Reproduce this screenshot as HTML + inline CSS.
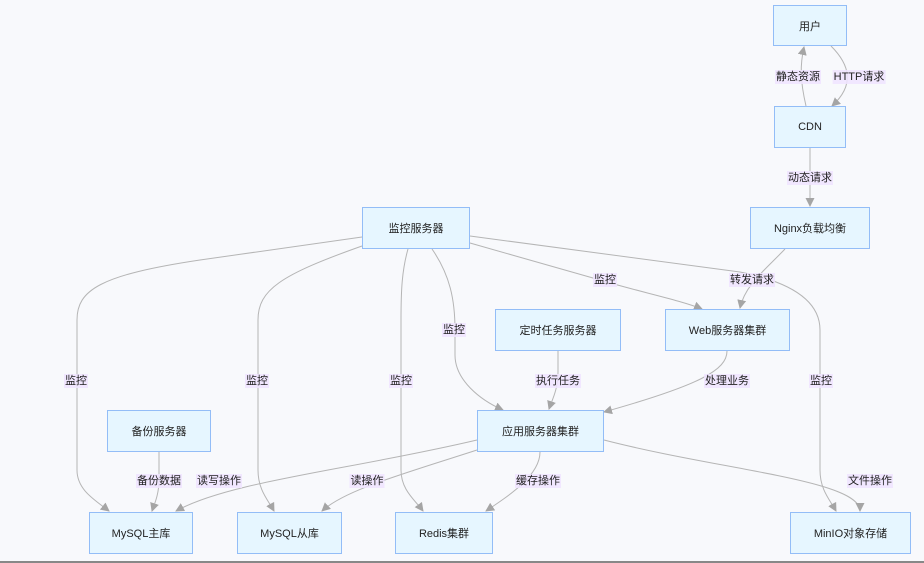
<!DOCTYPE html>
<html><head><meta charset="utf-8"><style>
body{margin:0;background:#f8f9fc;}
.w{position:relative;width:924px;height:563px;overflow:hidden;background:#f8f9fc;font-family:"Liberation Sans","Noto Sans CJK SC",sans-serif;}
.n{position:absolute;box-sizing:border-box;background:#e6f6ff;border:1.5px solid #93bdf7;display:flex;align-items:center;justify-content:center;font-size:11px;color:#222;}
.l{position:absolute;font-size:11px;color:#222;background:rgba(240,228,255,0.85);transform:translate(-50%,-50%);white-space:nowrap;padding:0 1px;line-height:14px;}
svg{position:absolute;left:0;top:0;}
</style></head><body><div class="w">
<svg width="924" height="563">
<defs><marker id="a" markerWidth="9" markerHeight="9" refX="8" refY="4.5" orient="auto" markerUnits="userSpaceOnUse"><path d="M0,0 L9,4.5 L0,9 z" fill="#a5a5a5"/></marker></defs>
<g fill="none" stroke="#b5b5b5" stroke-width="1" marker-end="url(#a)">
<path d="M806,106 C800,80 800,65 804,47"/>
<path d="M831,46 C850,65 855,85 832,106"/>
<path d="M810,148 L810,206"/>
<path d="M785,249 C765,270 745,285 740,308"/>
<path d="M362,237 L200,260 C100,275 77,290 77,320 L77,470 C77,490 95,500 109,511"/>
<path d="M362,246 C280,275 258,290 258,320 L258,470 C258,490 268,500 274,511"/>
<path d="M408,249 C402,270 401,290 401,320 L401,470 C401,490 415,500 423,511"/>
<path d="M432,249 C450,275 455,300 455,330 L455,355 C455,380 480,400 503,410"/>
<path d="M470,243 L600,280 C640,292 680,300 702,309"/>
<path d="M470,236 L740,272 C790,282 820,300 820,330 L820,470 C820,490 830,500 836,511"/>
<path d="M558,351 L558,372 C558,390 552,400 549,409"/>
<path d="M727,351 C727,370 700,385 604,412"/>
<path d="M477,440 C350,470 230,481 176,511"/>
<path d="M477,450 C400,475 345,490 322,511"/>
<path d="M540,452 C540,475 510,495 486,511"/>
<path d="M604,440 C720,470 860,480 860,511"/>
<path d="M159,452 L159,480 C159,495 154,505 152,511"/>
</g></svg>
<div class="n" style="left:773px;top:5px;width:74px;height:41px">用户</div>
<div class="n" style="left:774px;top:106px;width:72px;height:42px">CDN</div>
<div class="n" style="left:750px;top:207px;width:120px;height:42px">Nginx负载均衡</div>
<div class="n" style="left:362px;top:207px;width:108px;height:42px">监控服务器</div>
<div class="n" style="left:495px;top:309px;width:126px;height:42px">定时任务服务器</div>
<div class="n" style="left:665px;top:309px;width:125px;height:42px">Web服务器集群</div>
<div class="n" style="left:107px;top:410px;width:104px;height:42px">备份服务器</div>
<div class="n" style="left:477px;top:410px;width:127px;height:42px">应用服务器集群</div>
<div class="n" style="left:89px;top:512px;width:104px;height:42px">MySQL主库</div>
<div class="n" style="left:237px;top:512px;width:105px;height:42px">MySQL从库</div>
<div class="n" style="left:395px;top:512px;width:98px;height:42px">Redis集群</div>
<div class="n" style="left:790px;top:512px;width:121px;height:42px">MinIO对象存储</div>
<div class="l" style="left:798px;top:77px">静态资源</div>
<div class="l" style="left:859px;top:77px">HTTP请求</div>
<div class="l" style="left:810px;top:178px">动态请求</div>
<div class="l" style="left:752px;top:280px">转发请求</div>
<div class="l" style="left:605px;top:280px">监控</div>
<div class="l" style="left:454px;top:330px">监控</div>
<div class="l" style="left:76px;top:381px">监控</div>
<div class="l" style="left:257px;top:381px">监控</div>
<div class="l" style="left:401px;top:381px">监控</div>
<div class="l" style="left:821px;top:381px">监控</div>
<div class="l" style="left:558px;top:381px">执行任务</div>
<div class="l" style="left:727px;top:381px">处理业务</div>
<div class="l" style="left:159px;top:481px">备份数据</div>
<div class="l" style="left:219px;top:481px">读写操作</div>
<div class="l" style="left:367px;top:481px">读操作</div>
<div class="l" style="left:538px;top:481px">缓存操作</div>
<div class="l" style="left:870px;top:481px">文件操作</div>
<div style="position:absolute;left:0;top:561px;width:924px;height:2px;background:#888"></div>
</div></body></html>
